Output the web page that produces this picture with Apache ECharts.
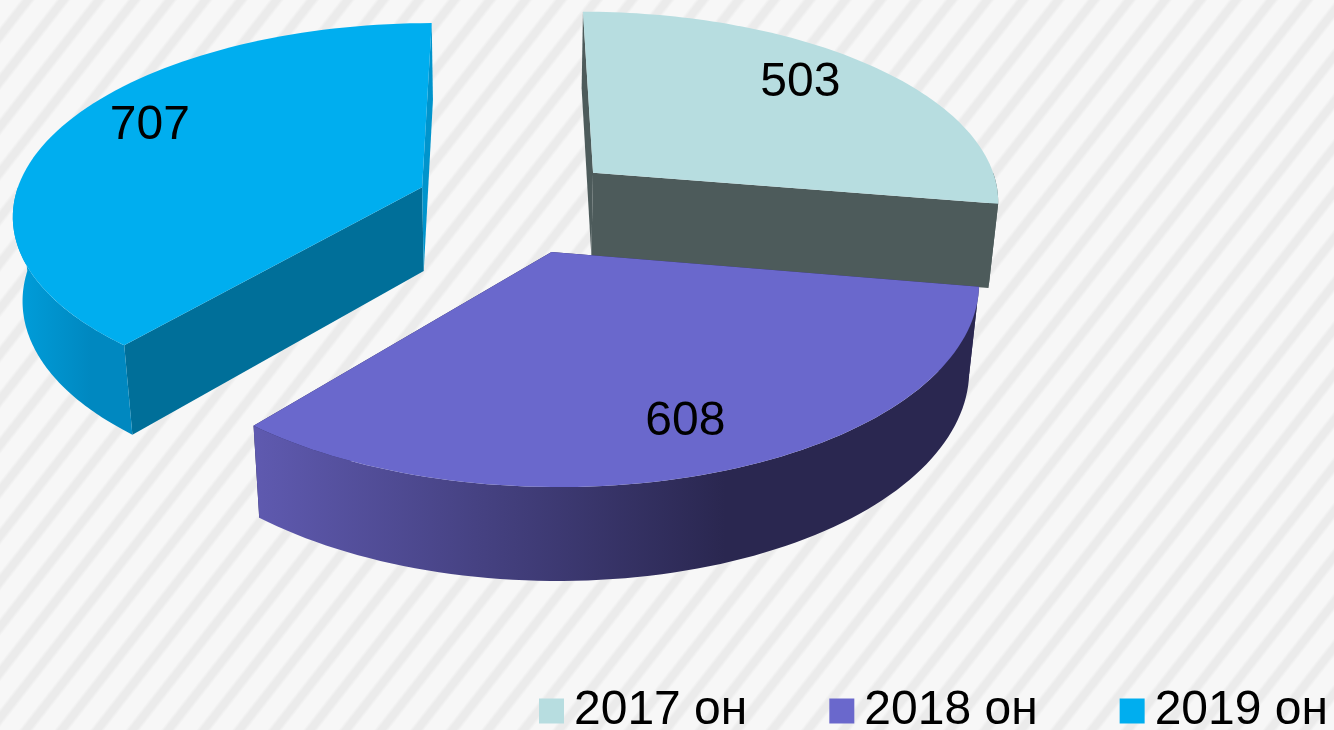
<!DOCTYPE html>
<html lang="ru">
<head>
  <meta charset="UTF-8">
  <title>3D pie</title>
  <script src="https://cdn.jsdelivr.net/npm/echarts@6/dist/echarts.min.js"></script>
  <style>
    html, body { margin: 0; padding: 0; }
    #chart {
      width: 1334px;
      height: 730px;
      background: repeating-linear-gradient(128deg, #f7f7f7 0, #f7f7f7 16px, #ebebeb 19px, #ebebeb 25px, #f7f7f7 28px);
    }
  </style>
</head>
<body>
<div id="chart"></div>
<script>
  const categories = ['2017 он', '2018 он', '2019 он'];
  const values = [503, 608, 707];

  // slice colours: top, face at slice start, face at slice end, outer wall left/right
  const topColors = ['#b7dde0', '#6a68cc', '#00aeef'];
  const startFace = ['#4d5b5b', '#2a2750', '#006f99'];
  const endFace = ['#4d5b5b', '#2a2750', '#0094cc'];
  const wallLeft = ['#4d5b5b', '#5f5ab0', '#009fdc'];
  const wallRight = ['#4d5b5b', '#2a2750', '#0088c0'];

  // fake 3d camera, units are pie radius
  const cx = 505, cy = 204, rx = 409, ry = 190, k = 0.132, wallH = 86, wallM = 0.02;
  const shiftX = [0.22, 0.11, -0.205];
  const shiftY = [-0.168, 0.245, -0.089];
  const labelR = 0.7;
  const labelNudge = [[10, -12], [17, 23], [-17, -18]];

  const total = values.reduce((a, b) => a + b, 0);
  const starts = [];
  values.reduce((acc, v, i) => { starts[i] = acc; return acc + v; }, 0);

  function project(X, Y, lower) {
    const d = 1 - k * Y + (lower ? wallM : 0);
    return [cx + rx * X / d, cy + (ry * Y + (lower ? wallH : 0)) / d];
  }

  // a = clockwise angle from 12 o'clock
  function rim(i, a, lower) {
    return project(shiftX[i] + Math.sin(a), shiftY[i] - Math.cos(a), lower);
  }

  function apex(i, lower) {
    return project(shiftX[i], shiftY[i], lower);
  }

  function arcPoints(i, a0, a1, lower) {
    const pts = [], n = 80;
    for (let s = 0; s <= n; s++) {
      pts.push(rim(i, a0 + (a1 - a0) * s / n, lower));
    }
    return pts;
  }

  function renderSlice(params, api) {
    const i = params.seriesIndex;
    const value = api.value(0);
    const a0 = starts[i] / total * Math.PI * 2;
    const a1 = (starts[i] + value) / total * Math.PI * 2;
    const mid = (a0 + a1) / 2;
    // only the front half of the outer wall can be seen
    const w0 = Math.max(a0, Math.PI / 2), w1 = Math.min(a1, Math.PI * 1.5);
    const topPts = [apex(i, false)].concat(arcPoints(i, a0, a1, false));
    const wallPts = arcPoints(i, w0, w1, false).concat(arcPoints(i, w0, w1, true).reverse());
    const labelPos = project(shiftX[i] + labelR * Math.sin(mid), shiftY[i] - labelR * Math.cos(mid), false);

    const face = (a, color) => ({
      type: 'polygon',
      shape: { points: [apex(i, false), rim(i, a, false), rim(i, a, true), apex(i, true)] },
      style: { fill: color }
    });

    return {
      type: 'group',
      children: [
        face(a0, startFace[i]),
        face(a1, endFace[i]),
        {
          type: 'polygon',
          shape: { points: wallPts },
          style: {
            fill: new echarts.graphic.LinearGradient(0, 0, 1, 0, [
              { offset: 0, color: wallLeft[i] },
              { offset: 0.65, color: wallRight[i] },
              { offset: 1, color: wallRight[i] }
            ])
          }
        },
        { type: 'polygon', shape: { points: topPts }, style: { fill: topColors[i] } },
        {
          type: 'text',
          z2: 10,
          style: {
            x: labelPos[0] + labelNudge[i][0],
            y: labelPos[1] + labelNudge[i][1],
            text: String(value),
            fill: '#000',
            font: '48px "Liberation Sans", Arial, sans-serif',
            align: 'center',
            verticalAlign: 'middle'
          }
        }
      ]
    };
  }

  const chart = echarts.init(document.getElementById('chart'));
  chart.setOption({
    animation: false,
    backgroundColor: 'transparent',
    legend: {
      left: 539,
      top: 687,
      padding: 0,
      itemWidth: 25,
      itemHeight: 25,
      itemGap: 82,
      icon: 'rect',
      data: categories,
      textStyle: {
        color: '#000',
        fontSize: 48,
        fontFamily: '"Liberation Sans", Arial, sans-serif',
        padding: [0, 0, 0, 5]
      }
    },
    series: categories.map((name, i) => ({
      type: 'custom',
      name: name,
      coordinateSystem: 'none',
      z: i === 1 ? 3 : 2,
      itemStyle: { color: topColors[i] },
      renderItem: renderSlice,
      data: [[values[i]]]
    }))
  });
</script>
</body>
</html>
